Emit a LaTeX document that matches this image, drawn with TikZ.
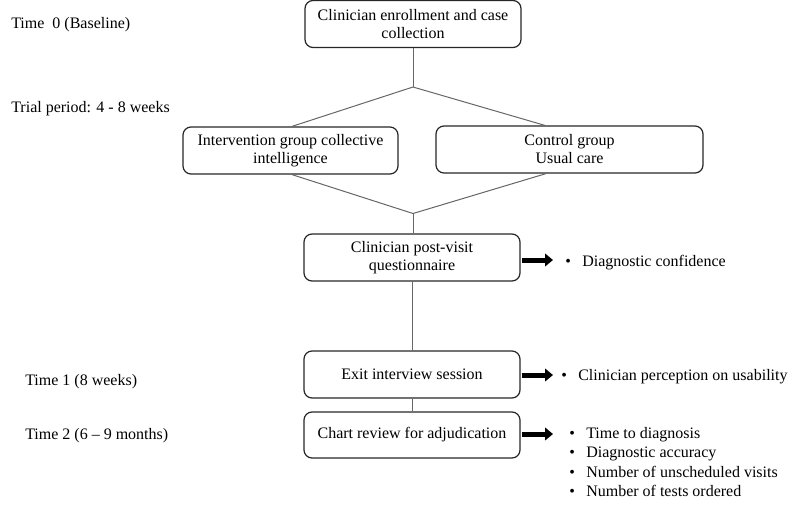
\documentclass[tikz,border=0pt]{standalone}
\usepackage{fontspec}
\setmainfont{Liberation Serif}
\usetikzlibrary{arrows.meta}
\tikzset{
  every node/.style={font=\fontsize{12pt}{13.5pt}\selectfont, text=black},
  box/.style={draw=black!85, line width=0.9pt, rounded corners=6pt, align=center,
    minimum height=35.25pt, inner sep=2pt},
  lbl/.style={anchor=west, inner sep=0pt},
  item/.style={anchor=base west, inner sep=0pt},
  conn/.style={draw=black!60, line width=0.75pt},
  bigarrow/.style={line width=3.75pt, -{Triangle[length=6pt,width=9.5pt]}, shorten <=0.75pt},
}
\begin{document}
\begin{tikzpicture}[x=0.75pt, y=-0.75pt]
\useasboundingbox (0,0) rectangle (800,511);
% boxes
\node[box, minimum width=162pt] (enroll) at (413,24) {Clinician enrollment and case\\collection};
\node[box, minimum width=161.25pt] (interv) at (290.5,150.5) {Intervention group collective\\intelligence};
\node[box, minimum width=200.25pt] (ctrl) at (569.5,149.5) {Control group\\Usual care};
\node[box, minimum width=162pt] (post) at (412,257.5) {Clinician post-visit\\questionnaire};
\node[box, minimum width=162pt] (exit) at (412,374.5) {Exit interview session};
\node[box, minimum width=162pt, minimum height=34.5pt] (chart) at (412,435) {Chart review for adjudication};
% split / join points
\coordinate (split) at (413,87);
\coordinate (join) at (413,213.5);
% connectors
\draw[conn] (enroll.south) -- (split);
\draw[conn] (split) -- ([xshift=1.1pt]interv.north);
\draw[conn] (split) -- ([xshift=-18.4pt]ctrl.north);
\draw[conn] ([xshift=1.1pt]interv.south) -- (join);
\draw[conn] ([xshift=-17.6pt]ctrl.south) -- (join);
\draw[conn] (join) -- (join |- post.north);
\draw[conn] (post.south) -- (exit.north);
\draw[conn] (exit.south) -- (chart.north);
% outcome arrows
\coordinate (a1) at (553,260);
\coordinate (a2) at (553,375);
\coordinate (a3) at (553,434);
\draw[bigarrow] (post.east |- a1) -- (a1);
\draw[bigarrow] (exit.east |- a2) -- (a2);
\draw[bigarrow] (chart.east |- a3) -- (a3);
% outcome lists
\node[item] (b1) at (565,266) {\textbullet};
\node[item] (o1) at (582,266) {Diagnostic confidence};
\node[item] (b2) at (561,380) {\textbullet};
\node[item] (o2) at (578,380) {Clinician perception on usability};
\node[item] (b3) at (569,438) {\textbullet};
\node[item] (o3) at (586,438) {Time to diagnosis};
\node[item] (b4) at (569,457.5) {\textbullet};
\node[item] (o4) at (586,457.5) {Diagnostic accuracy};
\node[item] (b5) at (569,477) {\textbullet};
\node[item] (o5) at (586,477) {Number of unscheduled visits};
\node[item] (b6) at (569,496.5) {\textbullet};
\node[item] (o6) at (586,496.5) {Number of tests ordered};
% time labels
\node[lbl] (t0) at (11,25) {Time\ \ 0 (Baseline)};
\node[lbl] (tp) at (11,109) {Trial period: 4 - 8 weeks};
\node[lbl] (t1) at (25,382) {Time 1 (8 weeks)};
\node[lbl] (t2) at (25,436) {Time 2 (6 – 9 months)};
\end{tikzpicture}
\end{document}
